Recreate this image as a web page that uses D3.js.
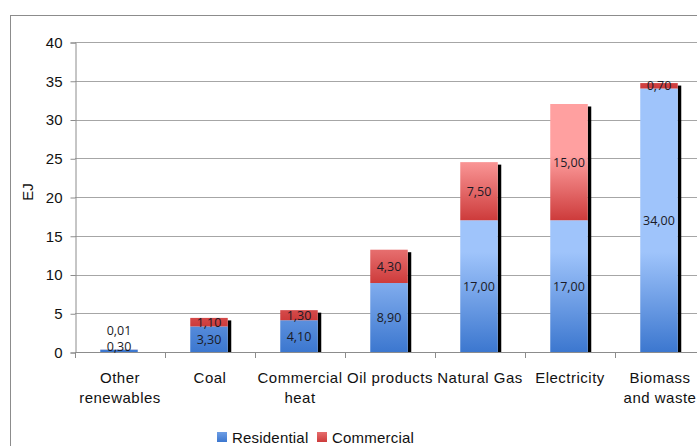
<!DOCTYPE html>
<html>
<head>
<meta charset="utf-8">
<script src="https://cdn.jsdelivr.net/npm/d3@7"></script>
<style>
body { margin: 0; background: #fff; }
</style>
</head>
<body>
<script>
// chart data
var categories = ["Other\nrenewables", "Coal", "Commercial\nheat", "Oil products", "Natural Gas", "Electricity", "Biomass\nand waste"];
var residential = [0.30, 3.30, 4.10, 8.90, 17.00, 17.00, 34.00];
var commercial = [0.01, 1.10, 1.30, 4.30, 7.50, 15.00, 0.70];
var seriesNames = ["Residential", "Commercial"];
var yTicks = [0, 5, 10, 15, 20, 25, 30, 35, 40];

var width = 697, height = 446;
// plot area (note: "top" is reserved on window, so use other names)
var plotLeft = 75, plotRight = 705, plotTop = 42, plotBottom = 352;

var svg = d3.select("body").append("svg")
    .attr("width", width)
    .attr("height", height);

// light/dark shades, span = px over which the shade fades up from the segment bottom
var colors = [
    {light: "#9fc4fb", dark: "#3c77cf", span: 100},
    {light: "#ffa0a0", dark: "#cd3b3b", span: 65}
];
var defs = svg.append("defs");

function makeGrad(id, c, yBottom){
    var lg = defs.append("linearGradient").attr("id", id)
        .attr("gradientUnits", "userSpaceOnUse")
        .attr("x1", 0).attr("x2", 0)
        .attr("y1", yBottom - c.span).attr("y2", yBottom);
    lg.append("stop").attr("offset", "0%").attr("stop-color", c.light);
    lg.append("stop").attr("offset", "100%").attr("stop-color", c.dark);
    return "url(#" + id + ")";
}

// outer frame
svg.append("rect")
    .attr("x", 10.5).attr("y", 15.5)
    .attr("width", 720).attr("height", 460)
    .attr("fill", "none")
    .attr("stroke", "#8c8c8c");

var x = d3.scaleBand()
    .domain(d3.range(categories.length))
    .range([plotLeft, plotRight])
    .padding(0);

var y = d3.scaleLinear()
    .domain([0, 40])
    .range([plotBottom, plotTop]);

// gridlines
svg.append("g")
    .selectAll("line")
    .data(yTicks)
    .enter()
    .append("line")
    .attr("x1", plotLeft).attr("x2", plotRight)
    .attr("y1", function(d){ return Math.round(y(d)) + 0.5; })
    .attr("y2", function(d){ return Math.round(y(d)) + 0.5; })
    .style("stroke", "#a6a6a6");

// y axis
var yAxis = svg.append("g")
    .attr("transform", "translate(" + (plotLeft + 0.5) + ",0.5)")
    .call(d3.axisLeft(y).tickValues(yTicks).tickSize(5).tickPadding(8));
yAxis.select(".domain").attr("stroke", "#8c8c8c");
yAxis.selectAll(".tick line").attr("stroke", "#8c8c8c");
yAxis.selectAll("text")
    .style("font-family", "Liberation Sans, Arial, sans-serif")
    .style("font-size", "15px")
    .attr("fill", "#111");

// x axis ticks at band edges
var edges = d3.range(categories.length + 1).map(function(i){ return plotLeft + i * x.step(); });
svg.append("line")
    .attr("x1", plotLeft).attr("x2", plotRight)
    .attr("y1", plotBottom + 0.5).attr("y2", plotBottom + 0.5)
    .style("stroke", "#8c8c8c");
svg.append("g").selectAll("line")
    .data(edges)
    .enter()
    .append("line")
    .attr("x1", function(d){ return Math.round(d) + 0.5; })
    .attr("x2", function(d){ return Math.round(d) + 0.5; })
    .attr("y1", plotBottom).attr("y2", plotBottom + 6)
    .style("stroke", "#8c8c8c");

// category labels
var catLabels = svg.append("g").selectAll("text")
    .data(categories)
    .enter()
    .append("text")
    .attr("text-anchor", "middle")
    .style("font-family", "Liberation Sans, Arial, sans-serif")
    .style("font-size", "15px")
    .style("letter-spacing", "0.5px")
    .attr("fill", "#111");
catLabels.each(function(d, i){
    var lines = d.split("\n");
    var t = d3.select(this);
    lines.forEach(function(l, j){
        t.append("tspan")
            .attr("x", x(i) + x.bandwidth() / 2)
            .attr("y", 383 + j * 20)
            .text(l);
    });
});

// y axis title
svg.append("text")
    .attr("transform", "translate(33,192) rotate(-90)")
    .attr("text-anchor", "middle")
    .style("font-family", "Liberation Sans, Arial, sans-serif")
    .style("font-size", "15px")
    .attr("fill", "#111")
    .text("EJ");

// stacked bars
var barW = 37.5;
var stacks = categories.map(function(c, i){
    return [
        {i: i, s: 0, y0: 0, y1: residential[i], v: residential[i]},
        {i: i, s: 1, y0: residential[i], y1: residential[i] + commercial[i], v: commercial[i]}
    ];
});
function barX(i){ return x(i) + x.bandwidth() / 2 - barW / 2 - 1; }

// black shadow on the right side of each stack
svg.append("g").selectAll("rect")
    .data(stacks)
    .enter()
    .append("rect")
    .attr("x", function(d){ return barX(d[0].i) + barW; })
    .attr("y", function(d){ return y(d[1].y1) + 2.5; })
    .attr("width", 3.5)
    .attr("height", function(d){ return Math.max(0, plotBottom - y(d[1].y1) - 2.5); })
    .attr("fill", "#000");

var segs = [].concat.apply([], stacks);
svg.append("g").selectAll("rect")
    .data(segs)
    .enter()
    .append("rect")
    .attr("x", function(d){ return barX(d.i); })
    .attr("y", function(d){ return y(d.y1); })
    .attr("width", barW)
    .attr("height", function(d){ return y(d.y0) - y(d.y1); })
    .attr("fill", function(d){ return makeGrad("g" + d.s + "_" + d.i, colors[d.s], y(d.y0)); });

// value labels, pushed up when they would collide
var fmt = function(v){ return d3.format(".2f")(v).replace(".", ","); };
stacks.forEach(function(st){
    var prev = null;
    st.forEach(function(d){
        var cy = (y(d.y0) + y(d.y1)) / 2;
        if (cy > plotBottom - 6) cy = plotBottom - 6;
        if (prev !== null && prev - cy < 16) cy = prev - 16;
        prev = cy;
        svg.append("text")
            .attr("x", barX(d.i) + barW / 2)
            .attr("y", cy)
            .attr("dy", "0.36em")
            .attr("text-anchor", "middle")
            .style("font-family", "Open Sans, sans-serif")
            .style("font-size", "12.5px")
            .attr("fill", "#1a1a26")
            .text(fmt(d.v));
    });
});

// legend
var legend = svg.append("g");
var legendX = [217, 317];
seriesNames.forEach(function(s, i){
    legend.append("rect")
        .attr("x", legendX[i]).attr("y", 432)
        .attr("width", 10).attr("height", 10)
        .attr("fill", makeGrad("leg" + i, {light: colors[i].light, dark: colors[i].dark, span: 20}, 442));
    legend.append("text")
        .attr("x", legendX[i] + 15).attr("y", 442.5)
        .style("font-family", "Liberation Sans, Arial, sans-serif")
        .style("font-size", "15px")
        .style("letter-spacing", "0.2px")
        .attr("fill", "#111")
        .text(s);
});
</script>
</body>
</html>
